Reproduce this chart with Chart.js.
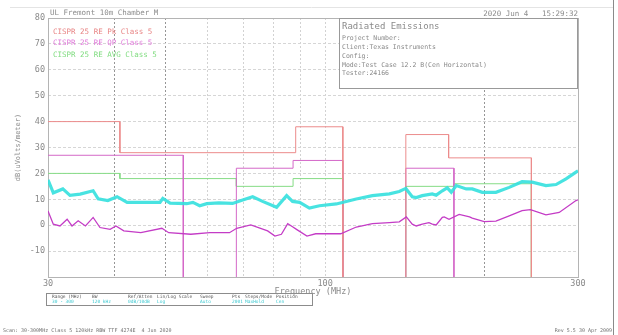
<!DOCTYPE html>
<html>
<head>
<meta charset="utf-8">
<script src="https://cdn.jsdelivr.net/npm/chart.js@4.4.1/dist/chart.umd.min.js"></script>
<style>
  html, body { margin: 0; padding: 0; background: #fff; }
  #wrap { width: 618px; height: 335px; position: relative; }
</style>
</head>
<body>
<div id="wrap"><canvas id="emiChart" width="618" height="335"></canvas></div>
<script>
// measured peak trace (cyan), MHz / dBuV/m
var peakFreq = [30, 30.7, 32, 33, 34.5, 36.5, 37.3, 38.9, 40.5, 42.3, 45.3, 48.8, 49.4, 51, 54.8,
    56.3, 58, 59.8, 63, 66.9, 69.9, 73, 76.2, 81, 84.6, 86.8, 89.5, 93.4, 97.6, 105,
    114.5, 122.8, 132.2, 138, 142, 146, 148.6, 152.5, 159.3, 162, 166.4, 170, 173, 176.8, 184.6,
    189.5, 197.9, 210, 222.5, 235.3, 245.8, 261, 272.7, 284.8, 297.4, 300];
var peakLevel = [17.5, 12.5, 14, 11.5, 12, 13.3, 10.2, 9.5, 11, 8.8, 8.8, 8.8, 10.3, 8.5, 8.3,
    8.8, 7.5, 8.3, 8.6, 8.4, 9.7, 11, 9.2, 6.9, 11.4, 9.2, 8.8, 6.6, 7.5, 8.2,
    10.1, 11.4, 12.1, 13, 14.2, 11, 10.7, 11.4, 12.1, 11.6, 13.3, 14.4, 12.7, 15.3, 14,
    14, 12.7, 12.7, 14.6, 16.8, 16.6, 15.3, 15.7, 17.9, 20.5, 21];

// measured average trace (magenta)
var avgFreq = [30, 30.7, 31.6, 32.6, 33.3, 34.2, 35.3, 36.5, 37.6, 39.3, 40.3, 41.7, 44.9, 49.2, 50.7,
    55.8, 60.6, 66, 68.1, 72.4, 77.9, 80.4, 82.7, 85, 86.8, 88.3, 92.4, 96, 107, 114.5,
    122.8, 132.2, 138, 142.3, 146, 148.6, 152.5, 157, 159.3, 162, 166.4, 167.8, 171.3, 179, 187.3,
    189.5, 199.6, 210, 222.5, 235.3, 244, 261, 276.5, 297.4, 300];
var avgLevel = [5.5, 0.4, -0.3, 2.3, -0.3, 1.7, -0.3, 3.0, -0.9, -1.6, -0.3, -2.2, -2.9, -1.2, -2.9,
    -3.5, -2.9, -2.9, -1.2, 0.1, -2.2, -4.2, -3.5, 0.6, -0.6, -1.6, -4.2, -3.3, -3.3, -0.7,
    0.6, 1.0, 1.3, 3.2, 0.4, -0.3, 0.4, 1.0, 0.4, 0.1, 3.0, 3.2, 2.3, 4.2, 3.2,
    2.7, 1.4, 1.6, 3.6, 5.6, 6.0, 4.0, 4.9, 9.5, 9.8];

// CISPR 25 class 5 limit bands
var pkLow = [30, 41, 88, 142, 171];
var pkHigh = [41, 88, 108, 171, 245];
var pkLevel = [40, 28, 38, 35, 26];
var qpLow = [30, 68, 87, 142];
var qpHigh = [54, 87, 108, 175];
var qpLevel = [27, 22, 25, 22];
var avLow = [30, 41, 68, 87, 142, 175];
var avHigh = [41, 68, 87, 108, 175, 245];
var avLevel = [20, 18, 15, 18, 15, 16];

// axis ticks
var gridFreq = [30, 40, 50, 60, 70, 80, 90, 100, 200, 300];
var freqLabels = [30, 100, 300];
var darkGridFreq = [40, 50, 200];
var yMin = -20, yMax = 80;

var monoFont = '"DejaVu Sans Mono", monospace';

function zipPoints(xs, ys) {
    var pts = [];
    for (var i = 0; i < xs.length; i++) pts.push({x: xs[i], y: ys[i]});
    return pts;
}

// turn band lists into a stepped outline, dropping to the floor between groups
function stepLine(low, high, level) {
    var pts = [];
    for (var i = 0; i < low.length; i++) {
        var joined = i > 0 && low[i] === high[i - 1];
        if (i > 0 && !joined) {
            pts.push({x: high[i - 1], y: yMin});
            pts.push({x: high[i - 1], y: null});
        }
        if (!joined && low[i] > gridFreq[0]) pts.push({x: low[i], y: yMin});
        pts.push({x: low[i], y: level[i]});
        pts.push({x: high[i], y: level[i]});
    }
    pts.push({x: high[high.length - 1], y: yMin});
    return pts;
}

// frame, header, legend, info box, footer
var decorPlugin = {
    id: 'decor',
    beforeDatasetsDraw: function (chart) {
        var c = chart.ctx, a = chart.chartArea;
        c.save();
        c.strokeStyle = '#b4b4b4';
        c.lineWidth = 1;
        c.strokeRect(Math.round(a.left) + 0.5, Math.round(a.top) + 0.5,
            Math.round(a.right - a.left), Math.round(a.bottom - a.top));
        c.restore();
    },
    afterDraw: function (chart) {
        var c = chart.ctx;
        c.save();
        c.textBaseline = 'middle';

        // page edges
        c.strokeStyle = '#e4e4e4';
        c.beginPath(); c.moveTo(10, 7.5); c.lineTo(613, 7.5); c.stroke();
        c.strokeStyle = '#8a8a8a';
        c.beginPath(); c.moveTo(613.5, 0); c.lineTo(613.5, 335); c.stroke();

        // header
        c.font = '7.5px ' + monoFont;
        c.fillStyle = '#8c8c8c';
        c.textAlign = 'left';
        c.fillText('UL Fremont 10m Chamber M', 50, 13);
        c.textAlign = 'right';
        c.fillText('2020 Jun 4   15:29:32', 578, 14);

        // limit legend
        c.textAlign = 'left';
        c.font = '7.5px ' + monoFont;
        c.fillStyle = '#e88484';
        c.fillText('CISPR 25 RE Pk Class 5', 53, 32);
        c.fillStyle = '#e07ada';
        c.fillText('CISPR 25 RE QP Class 5', 53, 43);
        c.fillStyle = '#80dc80';
        c.fillText('CISPR 25 RE AVG Class 5', 53, 55);

        // info box
        c.fillStyle = '#ffffff';
        c.fillRect(339, 18, 239, 71);
        c.strokeStyle = '#999';
        c.strokeRect(339.5, 18.5, 238, 70);
        c.fillStyle = '#8a8a8a';
        c.font = '9px ' + monoFont;
        c.fillText('Radiated Emissions', 342, 27);
        c.font = '6.5px ' + monoFont;
        c.fillText('Project Number:', 342, 38);
        c.fillText('Client:Texas Instruments', 342, 47);
        c.fillText('Config:', 342, 56);
        c.fillText('Mode:Test Case 12.2 B(Cen Horizontal)', 342, 65);
        c.fillText('Tester:24166', 342, 73);

        // settings table
        c.strokeStyle = '#8c8c8c';
        c.strokeRect(46.5, 293.5, 266, 12);
        var heads = ['Range (MHz)', 'BW', 'Ref/Atten', 'Lin/Log Scale', 'Sweep', 'Pts', 'Steps/Mode', 'Position'];
        var vals = ['30 - 300', '120 kHz', '0dB/10dB', 'Log', 'Auto', '2001', 'MaxHold', 'Cen'];
        var cols = [52, 92, 128, 157, 200, 232, 245, 276];
        c.font = '4.5px ' + monoFont;
        for (var i = 0; i < heads.length; i++) {
            c.fillStyle = '#555';
            c.fillText(heads[i], cols[i], 297);
            c.fillStyle = '#3cc8d0';
            c.fillText(vals[i], cols[i], 302);
        }

        // footer
        c.fillStyle = '#707070';
        c.font = '5px ' + monoFont;
        c.textAlign = 'left';
        c.fillText('Scan: 30-300MHz Class 5 120kHz RBW TTF 4274E  4 Jun 2020', 3, 331);
        c.textAlign = 'right';
        c.fillText('Rev 5.5 30 Apr 2009', 612, 331);
        c.restore();
    }
};

var chartTarget = document.getElementById('emiChart');

new Chart(chartTarget, {
    type: 'scatter',
    data: {
        datasets: [
            {
                label: 'Average',
                data: zipPoints(avgFreq, avgLevel),
                showLine: true,
                borderColor: '#c43cc6',
                borderWidth: 1.3,
                pointRadius: 0,
                order: 0
            },
            {
                label: 'Peak',
                data: zipPoints(peakFreq, peakLevel),
                showLine: true,
                borderColor: 'rgba(52,224,222,0.9)',
                borderWidth: 3.2,
                pointRadius: 0,
                order: 1
            },
            {
                label: 'CISPR 25 RE Pk Class 5',
                data: stepLine(pkLow, pkHigh, pkLevel),
                showLine: true,
                borderColor: '#ec8c8c',
                borderWidth: 1,
                pointRadius: 0,
                spanGaps: false,
                order: 2
            },
            {
                label: 'CISPR 25 RE QP Class 5',
                data: stepLine(qpLow, qpHigh, qpLevel),
                showLine: true,
                borderColor: '#d468c8',
                borderWidth: 1,
                pointRadius: 0,
                spanGaps: false,
                order: 2
            },
            {
                label: 'CISPR 25 RE AVG Class 5',
                data: stepLine(avLow, avHigh, avLevel),
                showLine: true,
                borderColor: '#86dc86',
                borderWidth: 1,
                pointRadius: 0,
                spanGaps: false,
                order: 2
            }
        ]
    },
    options: {
        responsive: false,
        animation: false,
        layout: { padding: { top: 18, right: 40, left: 0, bottom: 0 } },
        plugins: {
            legend: { display: false },
            tooltip: { enabled: false }
        },
        scales: {
            x: {
                type: 'logarithmic',
                min: 30,
                max: 300,
                afterBuildTicks: function (scale) {
                    scale.ticks = gridFreq.map(function (v) { return {value: v}; });
                },
                afterFit: function (scale) { scale.height = 58; },
                ticks: {
                    autoSkip: false,
                    maxRotation: 0,
                    padding: 2,
                    color: '#8a8a8a',
                    font: { family: monoFont, size: 8.5 },
                    callback: function (v) {
                        return freqLabels.indexOf(v) >= 0 ? String(v) : '';
                    }
                },
                grid: {
                    drawTicks: false,
                    color: function (ctx) {
                        return ctx.tick && darkGridFreq.indexOf(ctx.tick.value) >= 0 ? '#969696' : '#d2d2d2';
                    }
                },
                border: { display: false, dash: [2, 2] },
                title: {
                    display: true,
                    text: 'Frequency (MHz)',
                    color: '#8a8a8a',
                    font: { family: monoFont, size: 8.5 },
                    padding: { top: 0, bottom: 38 }
                }
            },
            y: {
                min: yMin,
                max: yMax,
                afterFit: function (scale) { scale.width = 48; },
                ticks: {
                    stepSize: 10,
                    padding: 3,
                    color: '#8a8a8a',
                    font: { family: monoFont, size: 8.5 },
                    callback: function (v) { return v === yMin ? '' : String(v); }
                },
                grid: { drawTicks: false, color: '#d6d6d6' },
                border: { display: false, dash: [3, 2] },
                title: {
                    display: true,
                    text: 'dB(uVolts/meter)',
                    color: '#8a8a8a',
                    font: { family: monoFont, size: 7 },
                    padding: { top: 14, bottom: 0 }
                }
            }
        }
    },
    plugins: [decorPlugin]
});
</script>
</body>
</html>
